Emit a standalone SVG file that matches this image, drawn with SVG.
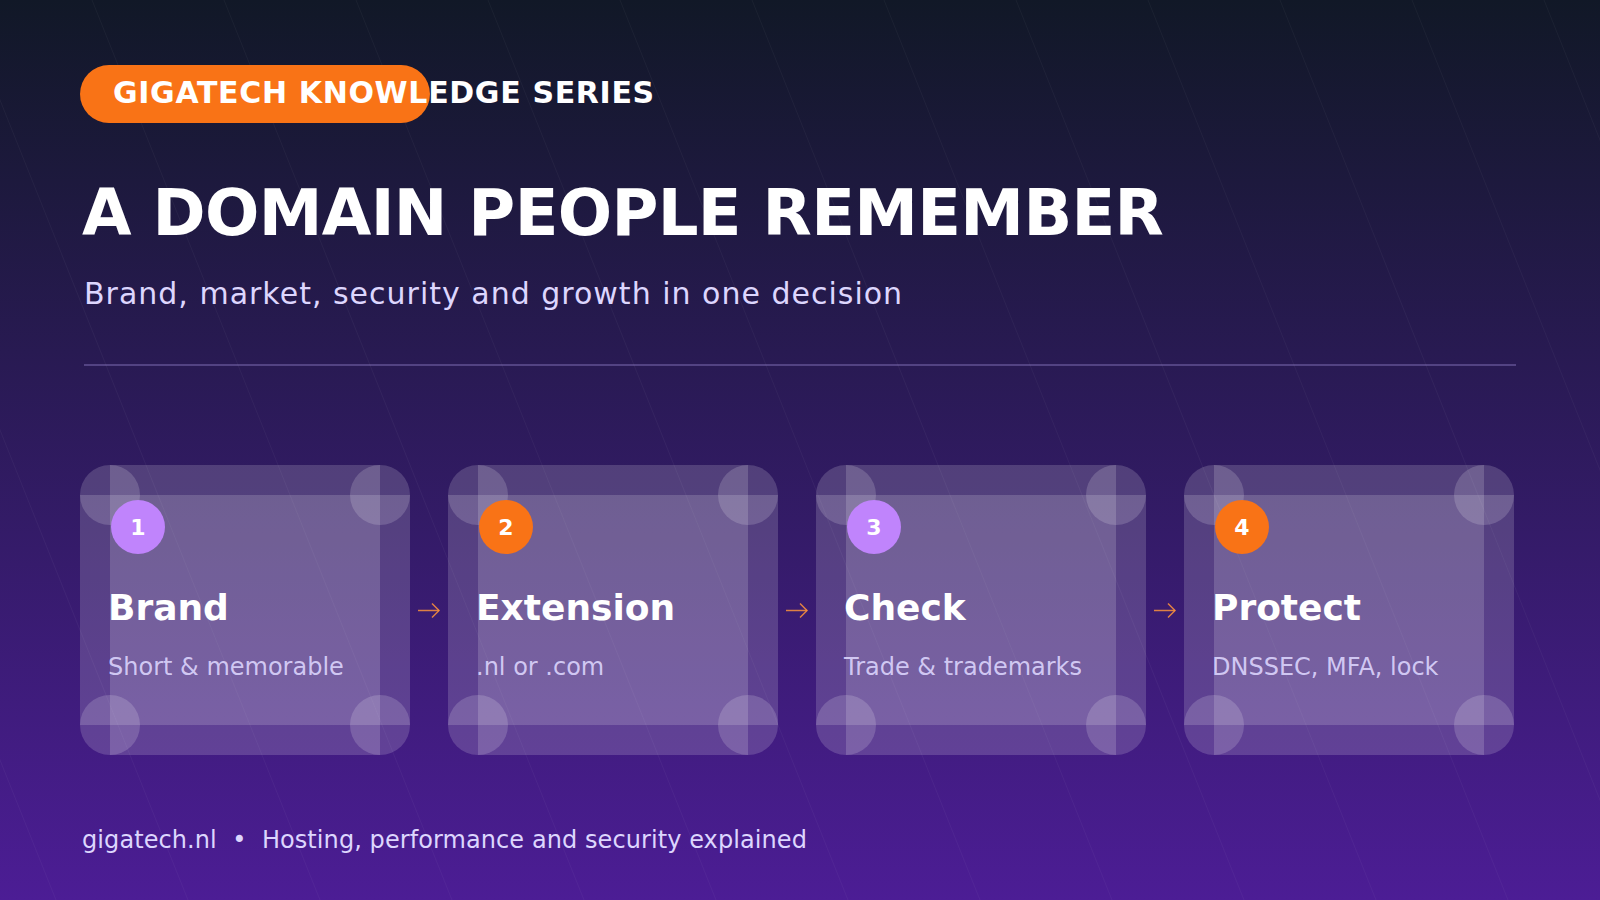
<svg xmlns="http://www.w3.org/2000/svg" width="1600" height="900" viewBox="0 0 1600 900">
  <defs>
    <linearGradient id="bg" x1="0" y1="0" x2="0" y2="1">
      <stop offset="0" stop-color="#111827"/>
      <stop offset="1" stop-color="#4c1d95"/>
    </linearGradient>
    <marker id="arrow" viewBox="0 0 10 16" refX="8" refY="8" markerWidth="10" markerHeight="16" markerUnits="userSpaceOnUse" orient="auto">
      <path d="M1,1 L8,8 L1,15" fill="none" stroke="#fb923c" stroke-opacity="0.85" stroke-width="1.5"/>
    </marker>
    <style>
      .sans { font-family: "DejaVu Sans", Verdana, sans-serif; }
      .streak { stroke: #ffffff; stroke-opacity: 0.045; stroke-width: 1; }
      .glass { fill: #ffffff; fill-opacity: 0.165; }
      .ctitle { font-family: "DejaVu Sans", Verdana, sans-serif; font-weight: bold; font-size: 36px; fill: #ffffff; }
      .cdesc { font-family: "DejaVu Sans", Verdana, sans-serif; font-size: 24px; fill: #ddd6fe; fill-opacity: 0.9; }
      .num { font-family: "DejaVu Sans", Verdana, sans-serif; font-weight: bold; font-size: 22px; fill: #ffffff; text-anchor: middle; }
      .conn { stroke: #fb923c; stroke-opacity: 0.85; stroke-width: 1.5; fill: none; }
    </style>
  </defs>

  <rect x="0" y="0" width="1600" height="900" fill="url(#bg)"/>

  <g id="streaks">
    <line class="streak" x1="-304" y1="0" x2="56" y2="900"/>
    <line class="streak" x1="-172" y1="0" x2="188" y2="900"/>
    <line class="streak" x1="-40" y1="0" x2="320" y2="900"/>
    <line class="streak" x1="92" y1="0" x2="452" y2="900"/>
    <line class="streak" x1="224" y1="0" x2="584" y2="900"/>
    <line class="streak" x1="356" y1="0" x2="716" y2="900"/>
    <line class="streak" x1="488" y1="0" x2="848" y2="900"/>
    <line class="streak" x1="620" y1="0" x2="980" y2="900"/>
    <line class="streak" x1="752" y1="0" x2="1112" y2="900"/>
    <line class="streak" x1="884" y1="0" x2="1244" y2="900"/>
    <line class="streak" x1="1016" y1="0" x2="1376" y2="900"/>
    <line class="streak" x1="1148" y1="0" x2="1508" y2="900"/>
    <line class="streak" x1="1280" y1="0" x2="1640" y2="900"/>
    <line class="streak" x1="1412" y1="0" x2="1772" y2="900"/>
    <line class="streak" x1="1544" y1="0" x2="1904" y2="900"/>
  </g>

  <g id="header">
    <rect x="80" y="65" width="350" height="58" rx="29" fill="#f97316"/>
    <text class="sans" x="113" y="103" font-size="30" font-weight="bold" letter-spacing="0.66" fill="#ffffff">GIGATECH KNOWLEDGE SERIES</text>
    <text class="sans" x="82" y="235" font-size="64" font-weight="bold" letter-spacing="-0.65" fill="#ffffff">A DOMAIN PEOPLE REMEMBER</text>
    <text class="sans" x="84" y="304" font-size="30" letter-spacing="1" fill="#ddd6fe">Brand, market, security and growth in one decision</text>
    <line x1="84" y1="365" x2="1516" y2="365" stroke="#c4b5fd" stroke-opacity="0.55" stroke-width="1.2"/>
  </g>

  <g id="card-1">
    <rect class="glass" x="80" y="495" width="330" height="230"/>
    <rect class="glass" x="110" y="465" width="270" height="290"/>
    <circle class="glass" cx="110" cy="495" r="30"/>
    <circle class="glass" cx="380" cy="495" r="30"/>
    <circle class="glass" cx="110" cy="725" r="30"/>
    <circle class="glass" cx="380" cy="725" r="30"/>
    <circle cx="138" cy="527" r="27" fill="#c084fc"/>
    <text class="num" x="138" y="535">1</text>
    <text class="ctitle" x="108" y="620">Brand</text>
    <text class="cdesc" x="108" y="675">Short &amp; memorable</text>
  </g>

  <g id="card-2">
    <rect class="glass" x="448" y="495" width="330" height="230"/>
    <rect class="glass" x="478" y="465" width="270" height="290"/>
    <circle class="glass" cx="478" cy="495" r="30"/>
    <circle class="glass" cx="748" cy="495" r="30"/>
    <circle class="glass" cx="478" cy="725" r="30"/>
    <circle class="glass" cx="748" cy="725" r="30"/>
    <circle cx="506" cy="527" r="27" fill="#f97316"/>
    <text class="num" x="506" y="535">2</text>
    <text class="ctitle" x="476" y="620">Extension</text>
    <text class="cdesc" x="476" y="675">.nl or .com</text>
  </g>

  <g id="card-3">
    <rect class="glass" x="816" y="495" width="330" height="230"/>
    <rect class="glass" x="846" y="465" width="270" height="290"/>
    <circle class="glass" cx="846" cy="495" r="30"/>
    <circle class="glass" cx="1116" cy="495" r="30"/>
    <circle class="glass" cx="846" cy="725" r="30"/>
    <circle class="glass" cx="1116" cy="725" r="30"/>
    <circle cx="874" cy="527" r="27" fill="#c084fc"/>
    <text class="num" x="874" y="535">3</text>
    <text class="ctitle" x="844" y="620">Check</text>
    <text class="cdesc" x="844" y="675">Trade &amp; trademarks</text>
  </g>

  <g id="card-4">
    <rect class="glass" x="1184" y="495" width="330" height="230"/>
    <rect class="glass" x="1214" y="465" width="270" height="290"/>
    <circle class="glass" cx="1214" cy="495" r="30"/>
    <circle class="glass" cx="1484" cy="495" r="30"/>
    <circle class="glass" cx="1214" cy="725" r="30"/>
    <circle class="glass" cx="1484" cy="725" r="30"/>
    <circle cx="1242" cy="527" r="27" fill="#f97316"/>
    <text class="num" x="1242" y="535">4</text>
    <text class="ctitle" x="1212" y="620">Protect</text>
    <text class="cdesc" x="1212" y="675">DNSSEC, MFA, lock</text>
  </g>

  <g id="connectors">
    <line class="conn" x1="418" y1="610.5" x2="439" y2="610.5" marker-end="url(#arrow)"/>
    <line class="conn" x1="786" y1="610.5" x2="807" y2="610.5" marker-end="url(#arrow)"/>
    <line class="conn" x1="1154" y1="610.5" x2="1175" y2="610.5" marker-end="url(#arrow)"/>
  </g>

  <g id="footer">
    <text class="sans" x="82" y="848" font-size="24" letter-spacing="0.08" fill="#ddd6fe" xml:space="preserve" style="white-space:pre">gigatech.nl  •  Hosting, performance and security explained</text>
  </g>
</svg>
